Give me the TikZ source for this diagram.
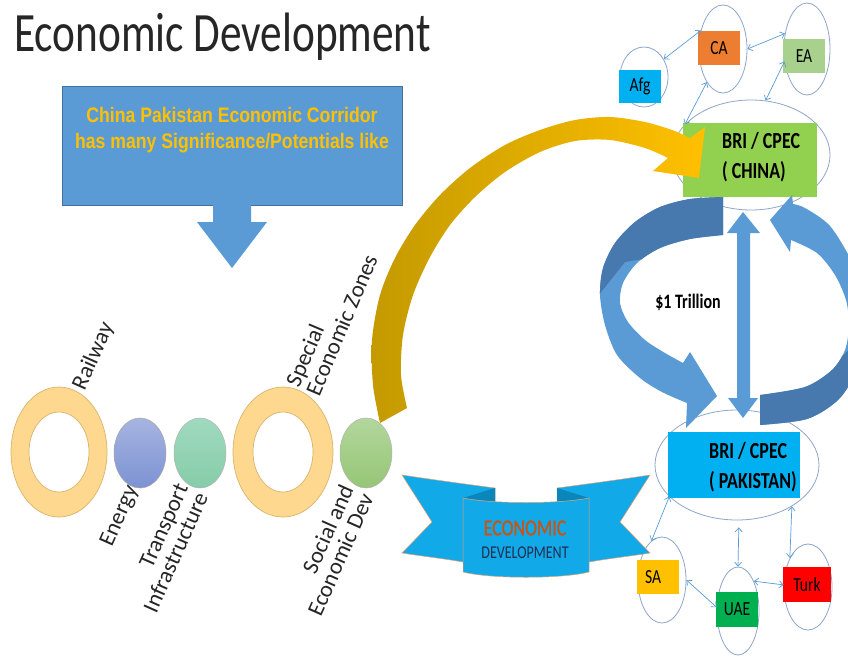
\documentclass[tikz,border=0pt]{standalone}
\usepackage{fontspec}
\setmainfont{Carlito}
\newfontfamily\cf[FakeStretch=0.78]{Carlito}
\newfontfamily\cfb[FakeStretch=0.78,FakeBold=1.2]{Carlito}
\newfontfamily\af[FakeStretch=0.84]{Liberation Sans}
\usetikzlibrary{shapes.geometric,arrows.meta}
\definecolor{obl}{HTML}{5B9BD5}
\definecolor{obd}{HTML}{41719C}
\definecolor{dkb}{HTML}{4778AE}
\definecolor{cyanb}{HTML}{00B0F0}
\definecolor{orng}{HTML}{ED7D31}
\definecolor{lgrn}{HTML}{A9D18E}
\definecolor{grn}{HTML}{92D050}
\definecolor{goldc}{HTML}{FFC000}
\definecolor{dgold}{HTML}{C49A00}
\definecolor{uaec}{HTML}{00B050}
\definecolor{ellc}{HTML}{8EA6CC}
\definecolor{ringc}{HTML}{FDD88E}
\definecolor{ringd}{HTML}{D9B46E}
\definecolor{ribc}{HTML}{12A9E8}
\definecolor{ribd}{HTML}{0B86BA}
\definecolor{ribo}{HTML}{E8A070}
\definecolor{econc}{HTML}{C4561A}
\definecolor{navy}{HTML}{1F2F4F}
\definecolor{titlec}{HTML}{262626}
\def\LArrPath{plot[smooth] coordinates {(723,197) (690,199) (660,207) (635,222) (615,243) (603,268) (600,295) (605,325) (617,355) (640,378) (662,392) (687,403)} -- (686,428) -- (717,396) -- (690,352) -- plot[smooth] coordinates {(683,363) (665,353) (645,340) (628,322) (620,303) (623,283) (637,263) (660,248) (690,239) (723,235)} -- cycle}
\def\RArrPath{plot[smooth] coordinates {(760,425) (807,419) (838,400) (856,372) (865,335) (864,298) (852,262) (830,226) (805,208) (793,204)} -- (792,195) -- (770,220) -- (790,252) -- plot[smooth] coordinates {(791,240) (817,253) (835,275) (846,300) (849,325) (845,350) (832,370) (805,387) (760,395)} -- cycle}
\begin{document}
\begin{tikzpicture}[x=1pt,y=-1pt,
  ell/.style={ellipse, draw=ellc, line width=0.8pt, inner sep=0pt},
  sbox/.style={inner sep=0pt, font=\cf\fontsize{20}{22}\selectfont, text=black},
  tarr/.style={draw=obl, line width=0.7pt, <->, >={Straight Barb[length=4pt,width=7pt]}},
  lab/.style={inner sep=0pt, font=\fontsize{23}{22}\selectfont, text=black!85},
  bri/.style={inner sep=0pt, align=left, font=\cf\bfseries\fontsize{23}{30}\selectfont, text=black}]
\useasboundingbox (0,0) rectangle (848,659);
\fill[white] (0,0) rectangle (848,659);

% title
\node[anchor=base west, inner sep=0pt, text=titlec] (title) at (14,51) {\cf\fontsize{55.5}{60}\selectfont Economic Development};

% top box and arrow
\node[draw=obd, line width=0.5pt, fill=obl, minimum width=340pt, minimum height=119pt, inner sep=0pt] (cpbox) at (232,145.5) {};
\node[align=center, text=goldc, inner sep=0pt, font=\af\bfseries\fontsize{21}{26}\selectfont] (cptext) at (232,130) {China Pakistan Economic Corridor\\has many Significance/Potentials like};
\fill[obl] (213,205) -- (251,205) -- (251,222) -- (267,222) -- (232,268) -- (197,222) -- (213,222) -- cycle;

% left circles
\fill[ringc, even odd rule] (59,452) ellipse[x radius=48pt, y radius=65pt] (59,452) ellipse[x radius=30pt, y radius=40pt];
\draw[ringd, line width=0.7pt] (59,452) ellipse[x radius=48pt, y radius=65pt] (59,452) ellipse[x radius=30pt, y radius=40pt];
\fill[ringc, even odd rule] (283,452) ellipse[x radius=50pt, y radius=65pt] (283,452) ellipse[x radius=30pt, y radius=40pt];
\draw[ringd, line width=0.7pt] (283,452) ellipse[x radius=50pt, y radius=65pt] (283,452) ellipse[x radius=30pt, y radius=40pt];
\node[ellipse, draw=black!35, line width=0.5pt, top color={rgb,255:red,166;green,180;blue,225}, bottom color={rgb,255:red,124;green,146;blue,210}, minimum width=52pt, minimum height=70pt, inner sep=0pt] (energy) at (140,453) {};
\node[ellipse, draw=black!30, line width=0.5pt, top color={rgb,255:red,160;green,218;blue,192}, bottom color={rgb,255:red,134;green,204;blue,168}, minimum width=52pt, minimum height=70pt, inner sep=0pt] (transp) at (200,453) {};
\node[ellipse, draw=black!30, line width=0.5pt, top color={rgb,255:red,178;green,214;blue,156}, bottom color={rgb,255:red,150;green,198;blue,118}, minimum width=52pt, minimum height=70pt, inner sep=0pt] (social) at (366,453) {};

\node[lab, rotate=66, anchor=west] (rail) at (79,389) {Railway};
\node[lab, rotate=66, anchor=east] (ener) at (133,487) {Energy};
\node[lab, rotate=66, anchor=east, align=right] (trans) at (192,489) {Transport\\Infrastructure};
\node[lab, rotate=67, anchor=west, align=left] (sez) at (302,390) {Special\\Economic Zones};
\node[lab, rotate=66, anchor=east, align=right] (soc) at (357,490) {Social and\\Economic Dev};

% top-right cluster
\node[ell, minimum width=48pt, minimum height=60pt] (afgE) at (644,77) {};
\node[ell, minimum width=48pt, minimum height=88pt] (caE) at (723,49) {};
\node[ell, minimum width=46pt, minimum height=92pt] (eaE) at (807,49) {};
\node[ell, minimum width=158pt, minimum height=110pt] (chE) at (751,155) {};
\node[sbox, fill=cyanb, minimum width=42pt, minimum height=33pt] (afg) at (640,86.5) {Afg};
\node[sbox, fill=orng, minimum width=42pt, minimum height=34pt] (ca) at (719,48) {CA};
\node[sbox, fill=lgrn, minimum width=42pt, minimum height=34pt] (ea) at (804,56) {EA};
\node[fill=grn, minimum width=134pt, minimum height=74pt, inner sep=0pt] (chbox) at (750,160) {};
\node[bri, anchor=west] (chtext) at (722,157) {BRI / CPEC\\( CHINA)};
\draw[tarr] (afgE.42) -- (caE.140);
\draw[tarr] (caE.0) -- (eaE.145);
\draw[tarr] (caE.244) -- (chE.155);
\draw[tarr] (eaE.209) -- (chE.75);

% bottom-right cluster
\node[ell, minimum width=164pt, minimum height=110pt] (pakE) at (737,465) {};
\node[ell, minimum width=48pt, minimum height=86pt] (saE) at (662,580) {};
\node[ell, minimum width=42pt, minimum height=88pt] (uaeE) at (738,611) {};
\node[ell, minimum width=48pt, minimum height=86pt] (turkE) at (808,587) {};
\node[fill=cyanb, minimum width=132pt, minimum height=66pt, inner sep=0pt] (pakbox) at (734,465) {};
\node[bri, anchor=west] (paktext) at (709,467) {BRI / CPEC\\( PAKISTAN)};
\node[sbox, fill=goldc, minimum width=42pt, minimum height=34pt, text width=42pt, align=left] (sa) at (658,577) {\hspace*{8pt}SA};
\node[sbox, fill=uaec, minimum width=42pt, minimum height=35pt] (uae) at (737,609.5) {UAE};
\node[sbox, fill=red, minimum width=48pt, minimum height=35pt] (turk) at (807,584.5) {Turk};
\draw[tarr] (pakE.205) -- (saE.105);
\draw[tarr, shorten <=7pt] (pakE.272) -- (uaeE.north);
\draw[tarr] (pakE.-37) -- (turkE.122);
\draw[tarr] (saE.0) -- (uaeE.170);
\draw[tarr] (uaeE.62) -- (turkE.175);

% blue curved arrows
\fill[obl] \LArrPath;
\begin{scope}
\clip (560,180) -- (760,180) -- (760,240) -- (625,262) -- (598,296) -- (560,300) -- cycle;
\fill[dkb] \LArrPath;
\end{scope}
\begin{scope}
\clip (0,0) rectangle (848,659);
\fill[obl] \RArrPath;
\clip (740,362) -- (832,366) -- (880,320) -- (880,440) -- (740,440) -- cycle;
\fill[dkb] \RArrPath;
\end{scope}
\fill[obl] (743,212) -- (760,233) -- (750,233) -- (750,398) -- (758,398) -- (743,418) -- (728,398) -- (737,398) -- (737,233) -- (727,233) -- cycle;
\node[inner sep=0pt, text=black, font=\cf\bfseries\fontsize{20.5}{24}\selectfont] (trillion) at (688,302) {\$1 Trillion};

% gold arrow
\shade[left color=dgold, right color=goldc] plot[smooth] coordinates {(380,423) (373,385) (372,340) (380,295) (395,258) (415,225) (440,195) (470,168) (505,145) (540,130) (575,120) (610,117) (645,122) (672,130) (690,138)} -- (705,127) -- (699,178) -- (653,171) -- plot[smooth] coordinates {(668,158) (645,148) (610,140) (575,141) (540,152) (505,172) (475,197) (450,225) (430,257) (413,295) (403,335) (401,375) (407,408)} -- cycle;

% ribbon
\filldraw[fill=ribc, draw=ribo, line width=0.5pt] (402,475) .. controls (435,480) and (465,484) .. (495,488) -- (495,540) -- (463,562) .. controls (440,558) and (420,556) .. (402,553) -- (432,522) -- cycle;
\filldraw[fill=ribc, draw=ribo, line width=0.5pt] (650,475) .. controls (617,480) and (587,484) .. (557,488) -- (557,540) -- (589,562) .. controls (612,558) and (632,556) .. (650,553) -- (620,522) -- cycle;
\fill[ribd] (463,498) -- (495,488) -- (495,502) -- cycle;
\fill[ribd] (589,498) -- (557,488) -- (557,502) -- cycle;
\filldraw[fill=ribc, draw=ribo, line width=0.5pt] (463,498) .. controls (490,504) and (562,504) .. (589,498) -- (589,572) .. controls (562,579) and (490,579) .. (463,572) -- cycle;
\node[inner sep=0pt, text=econc, font=\cfb\fontsize{23}{24}\selectfont] (econ) at (525,528) {ECONOMIC};
\node[inner sep=0pt, text=navy, font=\cf\fontsize{18}{20}\selectfont] (devel) at (525,553) {DEVELOPMENT};
\end{tikzpicture}
\end{document}
